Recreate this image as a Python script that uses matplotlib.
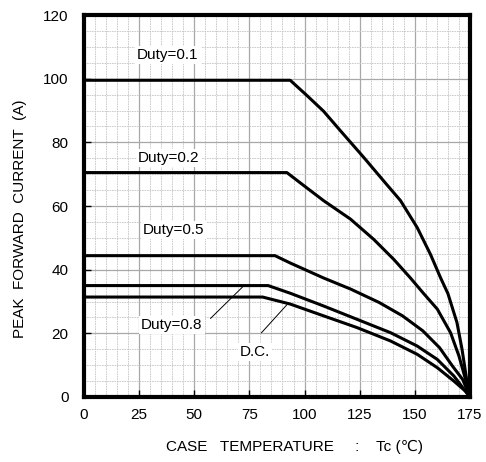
import matplotlib
matplotlib.use("Agg")
import matplotlib.pyplot as plt
from matplotlib.ticker import MultipleLocator

plt.rcParams['font.family'] = ['Liberation Sans', 'DejaVu Sans']

# Data
d01_x = [0, 93.5, 101.1, 108.6, 116.2, 121.5, 126.8, 136.7, 143.5, 151.1, 157.1, 161.7, 165.0, 169.1, 171.4, 173.5, 175]
d01_y = [99.5, 99.5, 94.7, 89.8, 83.7, 79.5, 75.3, 67.2, 61.7, 53.2, 44.8, 37.4, 32.5, 23.4, 15.0, 5.5, 0]

d02_x = [0, 92, 98, 108.6, 120.8, 131.4, 140.5, 148, 154, 160.2, 166.2, 170, 173, 175]
d02_y = [70.5, 70.5, 67.3, 61.7, 55.9, 49.5, 43.2, 37.4, 32.5, 27.6, 20.2, 12.9, 5.5, 0]

d05_x = [0, 86.6, 93.5, 108.6, 120.9, 133.8, 144.4, 153.6, 161.2, 167.1, 171.7, 175]
d05_y = [44.4, 44.4, 42.1, 37.4, 33.9, 29.7, 25.5, 20.8, 15.5, 9.7, 5.5, 0]

d08_x = [0, 83.5, 93.5, 108.6, 123.8, 139, 151.1, 160.2, 167.7, 173, 175]
d08_y = [35, 35, 32.6, 28.6, 24.4, 20.2, 16.0, 11.8, 6.6, 1.8, 0]

dc_x = [0, 81, 93.5, 108.6, 123.8, 139, 151.1, 160.2, 167.7, 173, 175]
dc_y = [31.4, 31.4, 29.2, 25.5, 21.8, 17.6, 13.4, 9.2, 5.0, 1.8, 0]

x_ticks = [0, 25, 50, 75, 100, 125, 150, 175]
y_ticks = [0, 20, 40, 60, 80, 100, 120]

fig = plt.figure(figsize=(4.86, 4.62), dpi=100)
ax = fig.add_axes([0.1728, 0.1407, 0.7942, 0.8268])

ax.set_xlim(0, 175)
ax.set_ylim(0, 120)
ax.set_xticks(x_ticks)
ax.set_yticks(y_ticks)
ax.xaxis.set_minor_locator(MultipleLocator(5))
ax.yaxis.set_minor_locator(MultipleLocator(5))
ax.grid(which='minor', color='#c4c4c4', linestyle=(0, (2, 1)), linewidth=0.6)
ax.grid(which='major', color='#a8a8a8', linestyle='-', linewidth=0.9)
ax.set_axisbelow(True)
ax.tick_params(which='major', direction='in', length=5, width=1, labelsize=11)
ax.tick_params(axis='x', which='major', pad=8)
ax.tick_params(axis='y', which='major', pad=11)
ax.tick_params(which='minor', length=0)
for s in ax.spines.values():
    s.set_linewidth(3)

for xs, ys in [(d01_x, d01_y), (d02_x, d02_y), (d05_x, d05_y), (d08_x, d08_y), (dc_x, dc_y)]:
    ax.plot(xs, ys, color='black', linewidth=2.2, solid_joinstyle='round', clip_on=False)

bb = dict(facecolor='white', edgecolor='none', pad=1.5)
ax.text(24.0, 107.4, 'Duty=0.1', fontsize=11, va='center', ha='left', bbox=bb)
ax.text(24.5, 75.0, 'Duty=0.2', fontsize=11, va='center', ha='left', bbox=bb)
ax.text(26.8, 52.5, 'Duty=0.5', fontsize=11, va='center', ha='left', bbox=bb)
ax.text(25.8, 22.6, 'Duty=0.8', fontsize=11, va='center', ha='left', bbox=bb)
ax.text(70.7, 14.2, 'D.C.', fontsize=11, va='center', ha='left', bbox=bb)

ax.plot([57.4, 71.8], [24.7, 34.5], color='black', linewidth=0.7)
ax.plot([80.5, 91.9], [20.2, 28.9], color='black', linewidth=0.7)

fig.text(0.041, 0.526, 'PEAK  FORWARD  CURRENT  (A)', rotation=90, fontsize=11,
         ha='center', va='center')
fig.text(0.606, 0.033, 'CASE   TEMPERATURE     :    Tc (\u2103)', fontsize=11,
         ha='center', va='center')

fig.savefig('out.png', dpi=100)
